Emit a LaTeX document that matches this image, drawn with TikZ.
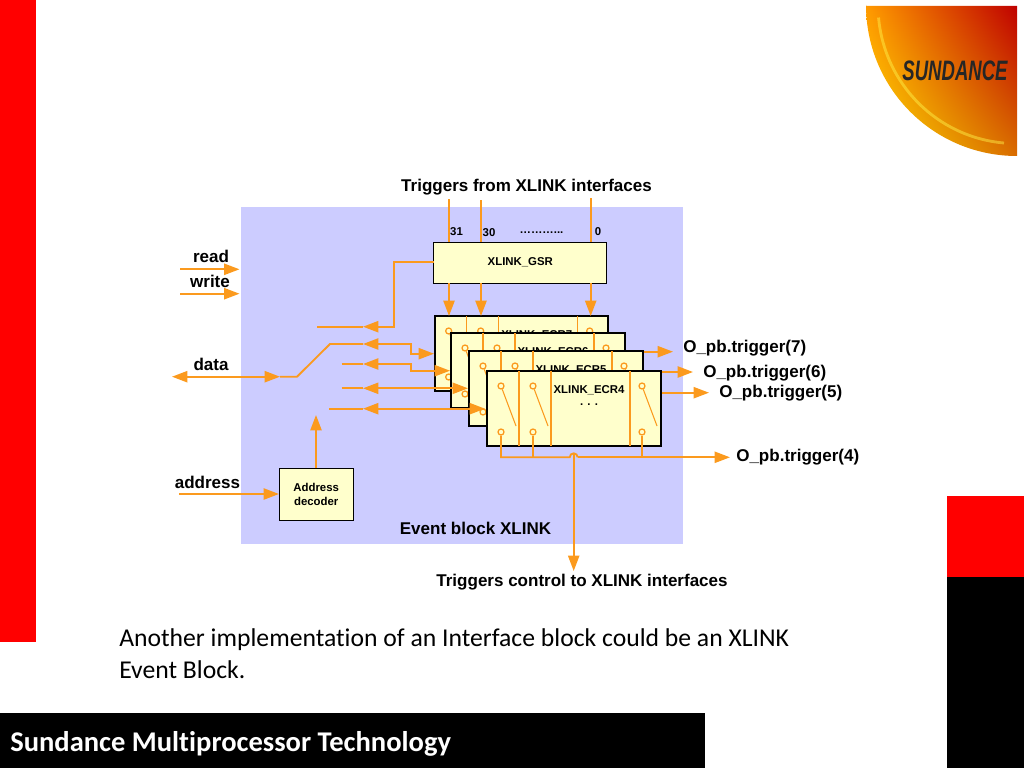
\documentclass[tikz,border=0pt]{standalone}
\usepackage{fontspec}
\setmainfont{Liberation Sans}
\newfontfamily\slidefont[Ligatures=NoCommon]{Carlito}
\usetikzlibrary{positioning,arrows.meta,shadings}
\definecolor{wirecol}{HTML}{FB9A1E}
\definecolor{blockcol}{HTML}{CCCCFF}
\definecolor{regcol}{HTML}{FFFFCC}
\tikzset{
	wire/.style={draw=wirecol,line width=1.3pt},
	wirethin/.style={draw=wirecol,line width=0.75pt},
	wirearrow/.style={wire,-{Triangle[length=11pt,width=8pt]}},
	wiredouble/.style={wire,{Triangle[length=11pt,width=8pt]}-{Triangle[length=11pt,width=8pt]}},
	mylabel/.style={font=\bfseries\fontsize{12.1}{14}\selectfont,inner sep=0pt},
	smalllabel/.style={font=\bfseries\fontsize{8.1}{10}\selectfont,inner sep=0pt,align=center},
	thinbox/.style={draw=black,fill=regcol,line width=0.7pt,inner sep=0pt,outer sep=0pt},
	ecrbox/.style={draw=black,fill=regcol,line width=1.3pt,inner sep=0pt,outer sep=0pt,anchor=north west,minimum width=4.34cm,minimum height=1.875cm},
	contact/.style={circle,draw=wirecol,line width=0.9pt,inner sep=0pt,minimum size=0.15cm}
}
\begin{document}
\begin{tikzpicture}[x=0.025cm,y=0.025cm]
	\useasboundingbox (0,0) rectangle (1024,-768);
	% slide frame
	\fill[red] (0,0) rectangle (36,-642);
	\fill[red] (947,-496) rectangle (1024,-577);
	\fill[black] (947,-577) rectangle (1024,-768);
	\fill[black] (0,-713) rectangle (705,-768);
	\shade[lower left=yellow!80!orange,upper left=orange!80!yellow,lower right=orange!85!black,upper right=red!75!black]
		(866,-6) -- (1017,-6) -- (1017,-156) arc[start angle=270,end angle=180,radius=151] -- cycle;
	\draw[yellow!70!white,line width=2pt,opacity=0.45] (1004,-143) arc[start angle=265,end angle=185,radius=138];
	\node[xscale=0.66,font=\bfseries\itshape\fontsize{20}{22}\selectfont,text=black!85] (logo) at (955,-71) {SUNDANCE};
	% event block
	\fill[blockcol] (241,-207) rectangle (683,-544);
	\node[mylabel] (blocktitle) at (475.5,-528.5) {Event block XLINK};
	\node[mylabel] (trigin) at (526.5,-187) {Triggers from XLINK interfaces};
	\node[mylabel] (trigout) at (582,-582) {Triggers control to XLINK interfaces};
	\node[mylabel] (read) at (211,-256) {read};
	\node[mylabel] (write) at (210,-281) {write};
	\node[mylabel] (data) at (211,-364) {data};
	\node[mylabel] (address) at (207.5,-482.5) {address};
	% register on top
	\node[thinbox,anchor=north west,minimum width=4.33cm,minimum height=1.025cm,smalllabel] (gsr) at (433.7,-242) {XLINK\_GSR};
	\node[smalllabel] (bit31) at (456.5,-232) {31};
	\node[smalllabel] (bit30) at (489,-232.5) {30};
	\node[smalllabel] (bitdots) at (541.5,-233) {………...};
	\node[smalllabel] (bit0) at (598,-232) {0};
	\coordinate (in31) at (449,-199);
	\coordinate (in30) at (481,-200);
	\coordinate (in0) at (590.7,-198);
	\node[thinbox,anchor=north west,minimum width=1.86cm,minimum height=1.3cm,smalllabel] (decoder) at (279,-468) {Address\\decoder};
	% stacked registers, back to front, each with its output
	\foreach \name/\txt/\x/\y/\outy/\outx in {ecrseven/7/434.7/316/351.7/673,ecrsix/6/451/333/372/693,ecrfive/5/469/351/392.7/709,ecrfour/4/487/371/0/0}{
		\node[ecrbox] (\name) at (\x,-\y) {};
		\begin{scope}[shift={(\x,-\y)}]
			\foreach \lx in {32,64,143}
				\draw[wirethin] (\lx,0) -- (\lx,-75);
			\foreach \i/\cx in {1/14,2/46,3/155}{
				\node[contact] (\name top\i) at (\cx,-15) {};
				\node[contact] (\name bot\i) at (\cx,-61) {};
				\coordinate (\name sw\i) at (\cx+15,-55);
				\draw[wirethin] (\name top\i) -- (\name sw\i);
			}
			\node[smalllabel] (\name title) at (102,-19) {XLINK\_ECR\txt};
		\end{scope}
		\ifnum\txt>4
			\coordinate (\name out) at (\outx,-\outy);
			\draw[wirearrow] (\name.east |- \name out) -- (\name out);
		\fi
	}
	\node[smalllabel] (ecrdots) at (589,-405) {. . .};
	\node[mylabel,anchor=west] (trig7) at (683,-348.5) {O\_pb.trigger(7)};
	\node[mylabel,anchor=west] (trig6) at (703,-373) {O\_pb.trigger(6)};
	\node[mylabel,anchor=west] (trig5) at (719,-393) {O\_pb.trigger(5)};
	\node[mylabel,anchor=west] (trig4) at (736,-457.5) {O\_pb.trigger(4)};
	% triggers in
	\draw[wire] (in31) -- (gsr.north -| in31);
	\draw[wire] (in30) -- (gsr.north -| in30);
	\draw[wire] (in0) -- (gsr.north -| in0);
	\draw[wirearrow] (gsr.south -| in31) -- (ecrseven.north -| in31);
	\draw[wirearrow] (gsr.south -| in30) -- (ecrseven.north -| in30);
	\draw[wirearrow] (gsr.south -| in0) -- (ecrseven.north -| in0);
	% read, write, address
	\coordinate (readin) at (180,-269.3);
	\coordinate (readend) at (239.5,-269.3);
	\coordinate (writein) at (180,-293.7);
	\coordinate (writeend) at (239.5,-293.7);
	\coordinate (addrin) at (179,-494);
	\coordinate (addrup) at (316,-415);
	\draw[wirearrow] (readin) -- (readend);
	\draw[wirearrow] (writein) -- (writeend);
	\draw[wirearrow] (addrin) -- (decoder.west |- addrin);
	\draw[wirearrow] (decoder.north -| addrup) -- (addrup);
	% data lines
	\coordinate (dataleft) at (172,-376.7);
	\coordinate (dataright) at (280,-376.7);
	\coordinate (kink1) at (297,-376.7);
	\coordinate (kink2) at (330,-344);
	\coordinate (tip1) at (363,-326.7);
	\coordinate (tip2) at (363,-344);
	\coordinate (tip3) at (363,-364);
	\coordinate (tip4) at (363,-388.3);
	\coordinate (tip5) at (363,-408.7);
	\coordinate (stub1) at (317,-326.7);
	\coordinate (stub3) at (341.7,-364);
	\coordinate (stub4) at (341.7,-388.3);
	\coordinate (stub5) at (329,-408.7);
	\coordinate (end2) at (434,-353.7);
	\coordinate (end3) at (450,-370.7);
	\coordinate (end4) at (468,-388.3);
	\coordinate (end5) at (485,-408.7);
	\coordinate (bend1) at (393.9,-262);
	\draw[wiredouble] (dataleft) -- (dataright);
	\draw[wire] (dataright) -- (kink1) -- (kink2) -- (tip2);
	\draw[wire] (stub1) -- (tip1);
	\draw[wire] (stub3) -- (tip3);
	\draw[wire] (stub4) -- (tip4);
	\draw[wire] (stub5) -- (tip5);
	\draw[wirearrow] (gsr.west |- bend1) -- (bend1) -- (bend1 |- tip1) -- (tip1);
	\draw[wiredouble] (tip2) -| (410.7,-353.7) -- (end2);
	\draw[wiredouble] (tip3) -| (410.7,-370.7) -- (end3);
	\draw[wiredouble] (tip4) -- (end4);
	\draw[wiredouble] (tip5) -- (end5);
	% output bus of the front register
	\coordinate (hopleft) at (569.7,-457.3);
	\coordinate (hopright) at (577.7,-457.3);
	\coordinate (hoptop) at (573.7,-453.3);
	\coordinate (busend) at (730,-457.3);
	\coordinate (downend) at (573.7,-571);
	\draw[wire] (ecrfourbot1) |- (hopleft) arc[start angle=180,end angle=0,radius=4];
	\draw[wire] (ecrfourbot2) -- (ecrfourbot2 |- hopleft);
	\draw[wire] (ecrfourbot3) -- (ecrfourbot3 |- hopright);
	\draw[wirearrow] (hopright) -- (busend);
	\draw[wirearrow] (hoptop) -- (downend);
	% slide text
	\node[font=\slidefont\fontsize{18.25}{22.7}\selectfont,text=black,anchor=north west,align=left,inner sep=0pt] (bodytext) at (119,-628.5) {Another implementation of an Interface block could be an XLINK\\Event Block.};
	\node[font=\slidefont\bfseries\fontsize{20.3}{22}\selectfont,text=white,anchor=west,inner sep=0pt] (footer) at (10,-743.5) {Sundance Multiprocessor Technology};
\end{tikzpicture}
\end{document}
